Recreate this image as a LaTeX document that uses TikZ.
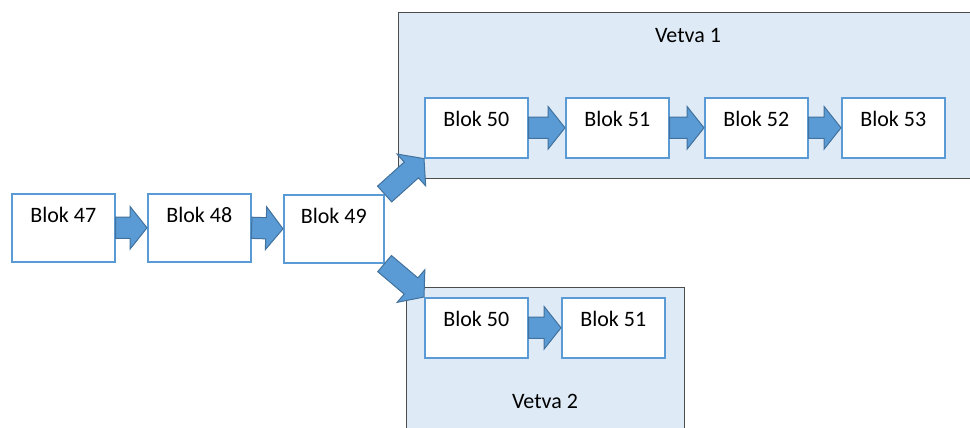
\documentclass[tikz,border=0pt]{standalone}
\usepackage{fontspec}
\setmainfont{Carlito}
\usetikzlibrary{calc}

\definecolor{blokblue}{HTML}{5B9BD5}
\definecolor{arrowedge}{HTML}{41719C}
\definecolor{branchfill}{HTML}{DEEBF7}

\tikzset{
  blok/.style={draw=blokblue, line width=0.8pt, fill=white, anchor=north west,
    minimum width=51.5pt, inner xsep=0pt, inner ysep=0pt,
    text height=14.5pt, text depth=15.5pt, font=\fontsize{11pt}{13pt}\selectfont},
  tallblok/.style={blok, text depth=19.5pt},
  branch/.style={draw=black!70, line width=0.7pt, fill=branchfill, anchor=north west, inner sep=0pt},
  branchlabel/.style={anchor=base, inner sep=0pt, font=\fontsize{11pt}{13pt}\selectfont},
  fatarrow/.style={draw=arrowedge, line width=0.5pt, fill=blokblue, line join=miter},
}

% fat arrow from #1 to #2 (shaft 5.3pt, head 10.7pt half-width, head 8.5pt long)
\newcommand{\blokarrow}[2]{%
  \draw[fatarrow] let \p1=(#1), \p2=(#2), \n1={atan2(\y2-\y1,\x2-\x1)},
      \p3=($(\p2)+(\n1+180:8.5pt)$) in
    ($(\p1)+(\n1+90:5.3pt)$) -- ($(\p3)+(\n1+90:5.3pt)$) -- ($(\p3)+(\n1+90:10.7pt)$)
    -- (\p2) -- ($(\p3)+(\n1-90:10.7pt)$) -- ($(\p3)+(\n1-90:5.3pt)$)
    -- ($(\p1)+(\n1-90:5.3pt)$) -- cycle;
}

\begin{document}
\begin{tikzpicture}[x=0.5pt, y=-0.5pt]
    \useasboundingbox (0,0) rectangle (970,428);
    \clip (0,0) rectangle (970,428);

    % Branch areas
    \node[branch, minimum width=290pt, minimum height=83pt] (vetva1) at (398,12) {};
    \node[branch, minimum width=139pt, minimum height=76pt] (vetva2) at (406,287) {};
    \node[branchlabel] (vetva1label) at (688,42) {Vetva 1};
    \node[branchlabel] (vetva2label) at (545,408) {Vetva 2};

    % Main chain
    \node[tallblok] (b47) at (11,193) {Blok 47};
    \node[tallblok] (b48) at (147,193) {Blok 48};
    \node[tallblok, minimum width=50pt] (b49) at (283,194) {Blok 49};

    % Branch 1
    \node[blok] (v1b50) at (424,97) {Blok 50};
    \node[blok] (v1b51) at (565,97) {Blok 51};
    \node[blok] (v1b52) at (704,97) {Blok 52};
    \node[blok] (v1b53) at (841,97) {Blok 53};

    % Branch 2
    \node[blok] (v2b50) at (424,297) {Blok 50};
    \node[blok] (v2b51) at (561,297) {Blok 51};

    % Arrows
    \blokarrow{b47.east}{b48.west}
    \blokarrow{b48.east}{b49.west}
    \blokarrow{b49.north east}{v1b50.south west}
    \blokarrow{b49.south east}{v2b50.north west}
    \blokarrow{v1b50.east}{v1b51.west}
    \blokarrow{v1b51.east}{v1b52.west}
    \blokarrow{v1b52.east}{v1b53.west}
    \blokarrow{v2b50.east}{v2b51.west}
\end{tikzpicture}
\end{document}
